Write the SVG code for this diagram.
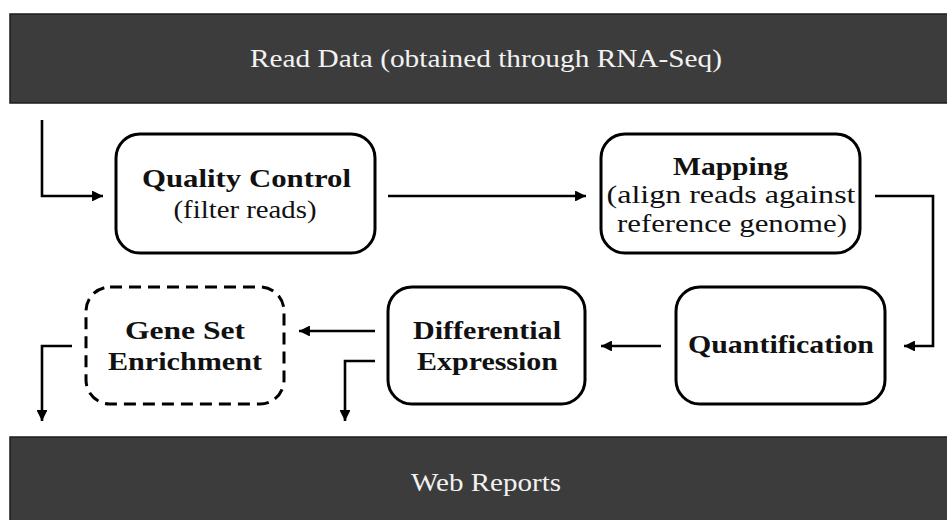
<svg xmlns="http://www.w3.org/2000/svg" width="947" height="520" viewBox="0 0 947 520">
<style>
.bar{fill:#3c3c3c;stroke:#1c1c1c;stroke-width:1.5}
.bt{font-family:"Liberation Serif","Times New Roman",serif;font-size:25px;fill:#f2f2f2;text-anchor:middle}
.box{fill:#fff;stroke:#000;stroke-width:3}
.dash{stroke-dasharray:12 7}
.t{font-family:"Liberation Serif","Times New Roman",serif;font-size:25px;fill:#111;text-anchor:middle}
.b{font-weight:bold}
.c{fill:none;stroke:#000;stroke-width:2.6}
</style>
<defs>
<marker id="ah" viewBox="0 0 10 10" refX="10" refY="5" markerWidth="4.2" markerHeight="4.2" markerUnits="strokeWidth" orient="auto">
<path d="M0,0 L10,5 L0,10 z" fill="#000"/>
</marker>
</defs>
<g id="read-data">
<rect class="bar" x="10" y="14" width="960" height="89"/>
<text class="bt" x="486" y="67" textLength="472" lengthAdjust="spacingAndGlyphs">Read Data (obtained through RNA-Seq)</text>
</g>
<g id="web-reports">
<rect class="bar" x="10" y="437" width="960" height="100"/>
<text class="bt" x="486" y="491" textLength="150" lengthAdjust="spacingAndGlyphs">Web Reports</text>
</g>
<g id="quality-control">
<rect class="box" x="116" y="134" width="259" height="119" rx="24"/>
<text class="t b" x="246.5" y="187" textLength="209" lengthAdjust="spacingAndGlyphs">Quality Control</text>
<text class="t" x="245" y="218" textLength="143" lengthAdjust="spacingAndGlyphs">(filter reads)</text>
</g>
<g id="mapping">
<rect class="box" x="601" y="134" width="259" height="119" rx="24"/>
<text class="t b" x="730.5" y="175" textLength="115" lengthAdjust="spacingAndGlyphs">Mapping</text>
<text class="t" x="731" y="203" textLength="249" lengthAdjust="spacingAndGlyphs">(align reads against</text>
<text class="t" x="732" y="232" textLength="230" lengthAdjust="spacingAndGlyphs">reference genome)</text>
</g>
<g id="quantification">
<rect class="box" x="676" y="287" width="209" height="117" rx="24"/>
<text class="t b" x="781" y="353" textLength="186" lengthAdjust="spacingAndGlyphs">Quantification</text>
</g>
<g id="differential-expression">
<rect class="box" x="388" y="287" width="197" height="117" rx="24"/>
<text class="t b" x="487" y="339" textLength="148" lengthAdjust="spacingAndGlyphs">Differential</text>
<text class="t b" x="487.5" y="370" textLength="141" lengthAdjust="spacingAndGlyphs">Expression</text>
</g>
<g id="gene-set-enrichment">
<rect class="box dash" x="86" y="287" width="198" height="117" rx="24"/>
<text class="t b" x="185" y="339" textLength="120" lengthAdjust="spacingAndGlyphs">Gene Set</text>
<text class="t b" x="185" y="370" textLength="154" lengthAdjust="spacingAndGlyphs">Enrichment</text>
</g>
<g id="connectors">
<path class="c" d="M42,120 V196 H103" marker-end="url(#ah)"/>
<path class="c" d="M388,196 H586" marker-end="url(#ah)"/>
<path class="c" d="M875,196 H933 V346 H904" marker-end="url(#ah)"/>
<path class="c" d="M661,346 H601" marker-end="url(#ah)"/>
<path class="c" d="M375,331 H299" marker-end="url(#ah)"/>
<path class="c" d="M375,361 H345 V421" marker-end="url(#ah)"/>
<path class="c" d="M72,346 H42 V421" marker-end="url(#ah)"/>
</g>
</svg>
